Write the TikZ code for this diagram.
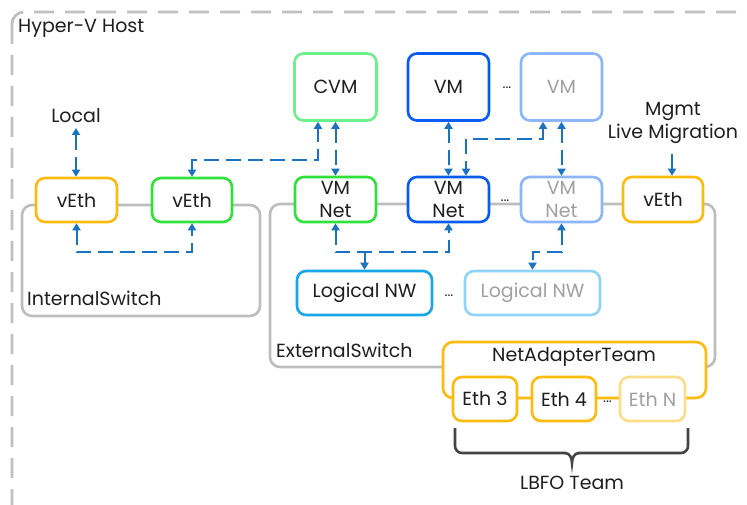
\documentclass[tikz,border=0pt]{standalone}
\usepackage{fontspec}
\setmainfont{Poppins}
\usetikzlibrary{arrows.meta,calc}
\definecolor{txt}{HTML}{1E1E1E}
\definecolor{gtxt}{HTML}{A0A0A0}
\definecolor{swgray}{HTML}{BDBDBD}
\definecolor{outgray}{HTML}{C0C0C0}
\definecolor{gbright}{HTML}{2EE23A}
\definecolor{glight}{HTML}{6CF08C}
\definecolor{bdark}{HTML}{0A5CF0}
\definecolor{blight}{HTML}{8CB6F6}
\definecolor{orng}{HTML}{FDBB10}
\definecolor{olight}{HTML}{FDDD88}
\definecolor{cyanb}{HTML}{18A6EA}
\definecolor{cyanl}{HTML}{90D4F6}
\definecolor{arrblue}{HTML}{1A72C2}
\definecolor{brace}{HTML}{444444}
\begin{document}
\begin{tikzpicture}[x=1pt,y=-1pt,
  box/.style={draw, line width=2.6pt, rounded corners=9pt, fill=white, inner sep=0pt,
    align=center, text=txt, font=\fontsize{19}{22}\selectfont},
  twoline/.style={font=\fontsize{19}{22.5}\selectfont},
  switchbox/.style={draw=swgray, line width=2.6pt, rounded corners=10pt},
  arr/.style={draw=arrblue, line width=2pt, dash pattern=on 15pt off 7pt,
    arrows={-Triangle[length=7pt,width=8pt]}},
  darr/.style={arr, arrows={Triangle[length=7pt,width=8pt]-Triangle[length=7pt,width=8pt]}},
  lbl/.style={text=txt, inner sep=0pt, font=\fontsize{19}{23}\selectfont, align=center},
  dots/.style={fill=white, inner sep=1pt, text=txt, font=\fontsize{14}{16}\selectfont}
]
\useasboundingbox (0,0) rectangle (747,505);
\clip (0,0) rectangle (747,505);
% outer host
\draw[outgray, line width=2.8pt, dash pattern=on 20pt off 11pt, rounded corners=12pt] (12,12) rectangle (790,540);
\node[lbl, anchor=west] (host) at (18,28) {Hyper-V Host};

% switches
\draw[switchbox] (22,205) rectangle (260,316);
\node[lbl, anchor=west] (isw) at (27,298) {InternalSwitch};
\draw[switchbox] (270,204) rectangle (715,367);
\node[lbl, anchor=west] (esw) at (276,350) {ExternalSwitch};

% top VMs
\node[box, draw=glight, minimum width=82pt, minimum height=67pt] (cvm) at (335.5,87) {CVM};
\node[box, draw=bdark, minimum width=81pt, minimum height=67pt] (vm1) at (448.5,87) {VM};
\node[dots] (dvm) at (507,88) {...};
\node[box, draw=blight, text=gtxt, minimum width=81pt, minimum height=67pt] (vm2) at (561.5,87) {VM};

% labels
\node[lbl] (local) at (76,116) {Local};
\node[lbl] (mgmt) at (673,123) {Mgmt\\Live Migration};

% vEth left
\node[box, draw=orng, minimum width=81pt, minimum height=44pt] (ve1) at (76.5,200) {vEth};
\node[box, draw=gbright, minimum width=80pt, minimum height=44pt] (ve2) at (192,200) {vEth};

% VM nets
\node[box, twoline, draw=gbright, minimum width=81pt, minimum height=45pt] (vmnG) at (335.5,199.5) {VM\\Net};
\node[box, twoline, draw=bdark, minimum width=81pt, minimum height=45pt] (vmnB) at (448.5,199.5) {VM\\Net};
\node[dots, fill=none] (dnet) at (505,201) {...};
\node[box, twoline, draw=blight, text=gtxt, minimum width=81pt, minimum height=45pt] (vmnL) at (561.5,199.5) {VM\\Net};
\node[box, draw=orng, minimum width=80pt, minimum height=45pt] (ve3) at (663,199.5) {vEth};

% logical networks
\node[box, draw=cyanb, minimum width=135pt, minimum height=44pt] (lnw1) at (364.5,293) {Logical NW};
\node[dots] (dlnw) at (449,296) {...};
\node[box, draw=cyanl, text=gtxt, minimum width=135pt, minimum height=44pt] (lnw2) at (532.5,293) {Logical NW};

% team
\draw[draw=orng, line width=2.6pt, rounded corners=10pt, fill=white] (443,342) rectangle (706,398);
\node[lbl] (team) at (574,357) {NetAdapterTeam};
\node[box, draw=orng, minimum width=64pt, minimum height=44pt] (eth3) at (485,399) {Eth 3};
\node[box, draw=orng, minimum width=64pt, minimum height=44pt] (eth4) at (564,399) {Eth 4};
\node[box, draw=olight, text=gtxt, minimum width=65pt, minimum height=44pt] (ethN) at (652.5,399) {Eth N};
\node[dots] (deth) at (607.5,402) {...};

% brace
\draw[brace, line width=2.6pt, rounded corners=7pt] (455,428) -- (455,453) -- (566,453);
\draw[brace, line width=2.6pt] (565,453) to[out=0,in=90] (572,463) to[out=90,in=180] (579,453);
\draw[brace, line width=2.6pt, rounded corners=7pt] (688,428) -- (688,453) -- (578,453);
\node[lbl] (lbfo) at (572,483) {LBFO Team};

% arrows
\coordinate (lowL) at (0,252);
\coordinate (h1) at (318,160);
\coordinate (h2) at (543,139);
\coordinate (h3) at (466,139);
\coordinate (lt) at (76,128);
\coordinate (mt) at (672,154);
\draw[darr] (lt) -- (lt |- ve1.north);
\draw[darr] (ve1.south) -- (ve1.south |- lowL) -| (ve2.south);
\draw[darr] (ve2.north) |- (h1) -- (h1 |- cvm.south);
\draw[darr] (cvm.south) -- (vmnG.north);
\draw[darr] (vm1.south) -- (vmnB.north);
\draw[darr] (h2 |- vm2.south) -- (h2) -- (h3) -- (h3 |- vmnB.north);
\draw[darr] (vm2.south) -- (vmnL.north);
\draw[arr] (mt) -- (mt |- ve3.north);
\draw[darr] (vmnG.south) -- (vmnG.south |- lowL) -| (vmnB.south);
\draw[arr] (lnw1.north |- lowL) -- (lnw1.north);
\draw[darr] (vmnL.south) -- (vmnL.south |- lowL) -| (lnw2.north);
\end{tikzpicture}
\end{document}
